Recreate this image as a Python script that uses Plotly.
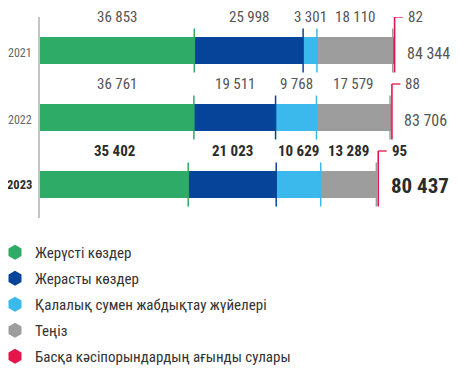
import plotly.graph_objects as go

years = ["2021", "2022", "2023"]
series_names = [
    "Жерүсті көздер",
    "Жерасты көздер",
    "Қалалық сумен жабдықтау жүйелері",
    "Теңіз",
    "Басқа кәсіпорындардың ағынды сулары",
]
surface = [36853, 36761, 35402]
underground = [25998, 19511, 21023]
municipal = [3301, 9768, 10629]
sea = [18110, 17579, 13289]
other = [82, 88, 95]
totals = [84344, 83706, 80437]

series = [surface, underground, municipal, sea, other]
colors = ["#2EAB66", "#06449A", "#3BB9EC", "#9D9D9D", "#E3154B"]

FONT = "Roboto Condensed, Liberation Sans Narrow, DejaVu Sans Condensed, sans-serif"
REG = "#555555"
BOLD = "#2b2b2b"

# the page body has an 8px default margin; figure is sized to fill the rest
PAGE_OFF = 8
W, H = 459 - PAGE_OFF, 378 - PAGE_OFF

ypos = list(range(len(years)))

fig = go.Figure()
for name, vals, col in zip(series_names, series, colors):
    fig.add_trace(go.Bar(
        x=vals, y=ypos, orientation="h", width=0.4,
        marker=dict(color=col, line=dict(width=0)),
        showlegend=False, hoverinfo="skip",
    ))
for name, col in zip(series_names, colors):
    fig.add_trace(go.Scatter(
        x=[None], y=[None], mode="markers", name=name, legendgroup=name,
        marker=dict(symbol="hexagon", size=15, color=col),
    ))

shapes = []
annotations = []
for i, yr in enumerate(years):
    last = (i == len(years) - 1)
    fcol = BOLD if last else REG
    fw = "bold" if last else "normal"
    cum = 0
    for k, vals in enumerate(series):
        v = vals[i]
        start = cum
        cum += v
        txt = f"{v:,}".replace(",", " ")
        if k < 4:
            shapes.append(dict(
                type="line", xref="x", yref="y",
                xsizemode="pixel", ysizemode="pixel",
                xanchor=cum, yanchor=i, x0=0, x1=0, y0=-22, y1=22,
                line=dict(color=colors[k], width=1.5),
            ))
            annotations.append(dict(
                x=start + v / 2, y=i, xref="x", yref="y", yshift=34,
                text=txt, showarrow=False,
                font=dict(family=FONT, size=15, color=fcol, weight=fw),
            ))
        else:
            shapes.append(dict(
                type="line", xref="x", yref="y",
                xsizemode="pixel", ysizemode="pixel",
                xanchor=cum, yanchor=i, x0=1.5, x1=1.5, y0=-22, y1=33.5,
                line=dict(color=colors[k], width=1.6),
            ))
            shapes.append(dict(
                type="line", xref="x", yref="y",
                xsizemode="pixel", ysizemode="pixel",
                xanchor=cum, yanchor=i, x0=1.5, x1=10, y0=33.5, y1=33.5,
                line=dict(color=colors[k], width=1.3),
            ))
            annotations.append(dict(
                x=cum, y=i, xref="x", yref="y", xanchor="left",
                xshift=13, yshift=34,
                text=txt, showarrow=False,
                font=dict(family=FONT, size=15, color=fcol, weight=fw),
            ))
    tot = f"{totals[i]:,}".replace(",", " ")
    annotations.append(dict(
        x=cum, y=i, xref="x", yref="y", xanchor="left",
        xshift=12, yshift=-3 if not last else -1,
        text=tot, showarrow=False,
        font=dict(family=FONT, size=21 if last else 16, color=fcol, weight=fw),
    ))
    annotations.append(dict(
        x=0, y=i, xref="paper", yref="y", xanchor="right",
        xshift=-6, yshift=-2 if not last else 0,
        text=yr, showarrow=False,
        font=dict(family=FONT, size=12.5 if last else 12,
                  color=BOLD if last else "#666666", weight=fw),
    ))

fig.update_layout(
    width=W, height=H,
    margin=dict(l=40 - PAGE_OFF, r=10, t=17 - PAGE_OFF, b=160, autoexpand=False),
    paper_bgcolor="white", plot_bgcolor="white",
    barmode="stack", bargap=0,
    xaxis=dict(range=[0, 97700], visible=False, fixedrange=True),
    yaxis=dict(range=[2.5, -0.5], showticklabels=False, showgrid=False,
               zeroline=False, showline=True, linecolor="#c4c4c4", linewidth=2,
               ticks="", fixedrange=True),
    shapes=shapes,
    annotations=annotations,
    showlegend=True,
    legend=dict(
        orientation="v", xref="container", yref="container",
        x=0, xanchor="left", y=1 - 228 / H, yanchor="top",
        indentation=-13,
        font=dict(family=FONT, size=15, color="#333333"),
        itemsizing="trace", bgcolor="rgba(0,0,0,0)",
        traceorder="grouped", tracegroupgap=3.5,
    ),
)

fig.write_html("out.html")
